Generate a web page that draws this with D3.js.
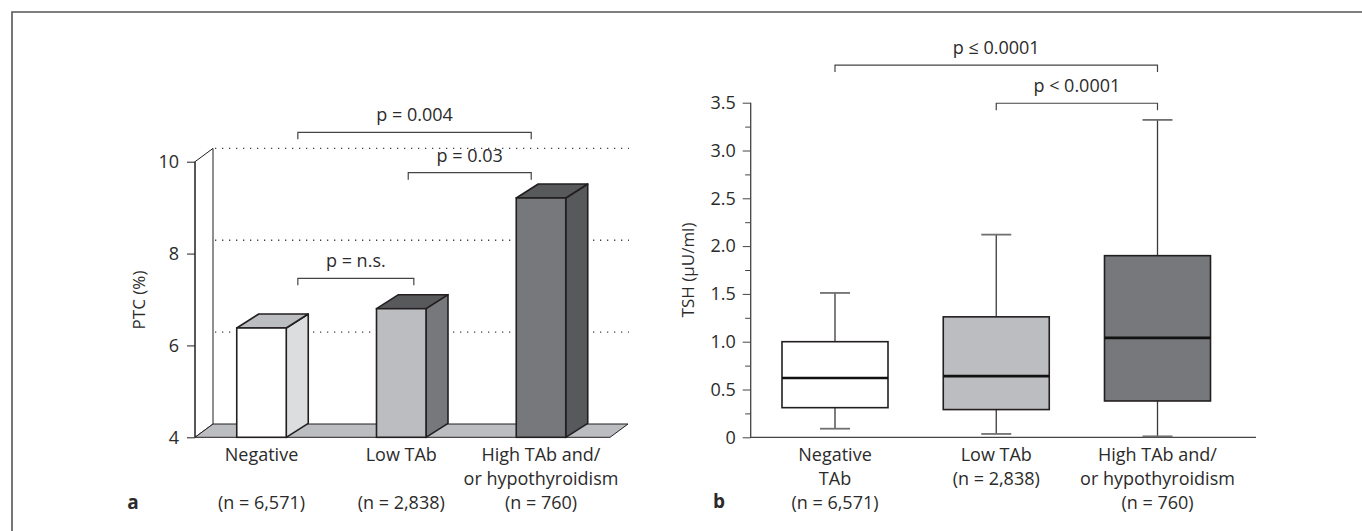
<!DOCTYPE html>
<html>
<head>
<meta charset="utf-8">
<script src="https://cdn.jsdelivr.net/npm/d3@7"></script>
<style>
  body { margin: 0; background: #fff; }
  text { font-family: "Open Sans", sans-serif; fill: #2b2b2b; }
</style>
</head>
<body>
<div id="chart"></div>
<script>
// ---- data ----
const groupLinesA = [["Negative"], ["Low TAb"], ["High TAb and/", "or hypothyroidism"]];
const groupLinesB = [["Negative", "TAb", "(n = 6,571)"], ["Low TAb", "(n = 2,838)"], ["High TAb and/", "or hypothyroidism", "(n = 760)"]];
const countsA = ["(n = 6,571)", "(n = 2,838)", "(n = 760)"];

const ptcValues = [6.38, 6.80, 9.21];
const ptcTicks = [4, 6, 8, 10];
const ptcGrid = [6, 8, 10];

const tshLow = [0.09, 0.035, 0.01];
const tshQ1 = [0.31, 0.29, 0.38];
const tshMedian = [0.62, 0.64, 1.04];
const tshQ3 = [1.00, 1.26, 1.90];
const tshHigh = [1.51, 2.12, 3.32];
const tshTicks = [0, 0.5, 1, 1.5, 2, 2.5, 3, 3.5];
const tshTickLabels = ["0", "0.5", "1.0", "1.5", "2.0", "2.5", "3.0", "3.5"];
const tshMinor = [0.25, 0.75, 1.25, 1.75, 2.25, 2.75, 3.25];

// brackets: from/to in category units, level in axis units
const bracketsA = [
  {from: 0.26, to: 1.93, level: 10.64, label: "p = 0.004"},
  {from: 1.05, to: 1.93, level: 9.76, label: "p = 0.03"},
  {from: 0.26, to: 1.09, level: 7.46, label: "p = n.s."}
];
const bracketsB = [
  {from: 0, to: 2, level: 3.894, label: "p \u2264 0.0001"},
  {from: 1, to: 2, level: 3.494, label: "p < 0.0001"}
];

// ---- styles ----
const ink = "#231f20";
const fs = "18px";
const frontFill = ["#ffffff", "#bcbdc0", "#77787b"];
const sideFill = ["#dcddde", "#77787b", "#58595b"];
const topFill = ["#bcbdc0", "#58595b", "#58595b"];
const boxFill = ["#ffffff", "#bcbdc0", "#77787b"];

const W = 1362, H = 531;
const svg = d3.select("#chart").append("svg")
    .attr("width", W)
    .attr("height", H);

// frame (top and left only)
svg.append("path")
    .attr("d", `M12,${H} V12 H${W}`)
    .attr("fill", "none")
    .attr("stroke", "#555")
    .attr("stroke-width", 1.6);

// ================= panel a =================
const yA = d3.scaleLinear().domain([4, 10]).range([437.3, 161.7]);
const xA = d3.scalePoint().domain(d3.range(3)).range([261.5, 541]);
const posA = d3.scaleLinear().domain([0, 1]).range([261.5, 401.25]);
const axisX = 195, floorRight = 610;
const wdx = 18, wdy = 13.3;   // wall depth
const bdx = 22, bdy = 14;     // bar depth
const barW = 49.5;

const ga = svg.append("g");

// back wall
ga.append("path")
    .attr("d", `M${axisX},${yA(10)} L${axisX + wdx},${yA(10) - wdy} L${axisX + wdx},${yA(4) - wdy} L${axisX},${yA(4)} Z`)
    .attr("fill", "#fff")
    .attr("stroke", ink)
    .attr("stroke-width", 1);

// floor
ga.append("path")
    .attr("d", `M${axisX},${yA(4)} L${axisX + wdx},${yA(4) - wdy} L${floorRight + wdx},${yA(4) - wdy} L${floorRight},${yA(4)} Z`)
    .attr("fill", "#bcbdc0")
    .attr("stroke", ink)
    .attr("stroke-width", 1);

// dotted grid on the back plane
ga.selectAll("line.grid")
    .data(ptcGrid)
    .join("line")
    .attr("class", "grid")
    .attr("x1", axisX + wdx + 2)
    .attr("x2", floorRight + wdx + 1)
    .attr("y1", d => yA(d) - wdy)
    .attr("y2", d => yA(d) - wdy)
    .attr("stroke", "#444")
    .attr("stroke-width", 1.3)
    .attr("stroke-dasharray", "1.3,5.7");

// y axis
const axA = ga.append("g")
    .attr("transform", `translate(${axisX},0)`)
    .call(d3.axisLeft(yA).tickValues(ptcTicks).tickFormat(d3.format("d")).tickSize(8).tickPadding(8));
axA.select(".domain").remove();
axA.selectAll(".tick line").attr("stroke", ink);
axA.selectAll(".tick text")
    .style("font-family", "'Open Sans', sans-serif")
    .style("font-size", fs)
    .attr("fill", "#2b2b2b");

// bars
const bars = ga.selectAll("g.bar")
    .data(ptcValues)
    .join("g")
    .attr("class", "bar");

bars.append("path") // side
    .attr("d", (d, i) => {
      const x1 = xA(i) + barW / 2;
      return `M${x1},${yA(d)} L${x1 + bdx},${yA(d) - bdy} L${x1 + bdx},${yA(4) - bdy} L${x1},${yA(4)} Z`;
    })
    .attr("fill", (d, i) => sideFill[i])
    .attr("stroke", ink)
    .attr("stroke-width", 1.6)
    .attr("stroke-linejoin", "round");

bars.append("path") // top
    .attr("d", (d, i) => {
      const x0 = xA(i) - barW / 2, x1 = xA(i) + barW / 2;
      return `M${x0},${yA(d)} L${x0 + bdx},${yA(d) - bdy} L${x1 + bdx},${yA(d) - bdy} L${x1},${yA(d)} Z`;
    })
    .attr("fill", (d, i) => topFill[i])
    .attr("stroke", ink)
    .attr("stroke-width", 1.6)
    .attr("stroke-linejoin", "round");

bars.append("rect") // front
    .attr("x", (d, i) => xA(i) - barW / 2)
    .attr("y", d => yA(d))
    .attr("width", barW)
    .attr("height", d => yA(4) - yA(d))
    .attr("fill", (d, i) => frontFill[i])
    .attr("stroke", ink)
    .attr("stroke-width", 1.6);

// front axis edge over everything
ga.append("line")
    .attr("x1", axisX).attr("x2", axisX)
    .attr("y1", yA(10)).attr("y2", yA(4))
    .attr("stroke", ink);

// brackets
function drawBrackets(g, list, xf, yf) {
  const b = g.selectAll("g.bracket")
      .data(list)
      .join("g")
      .attr("class", "bracket");
  b.append("path")
      .attr("d", d => `M${xf(d.from)},${yf(d.level) + 7} V${yf(d.level)} H${xf(d.to)} V${yf(d.level) + 7}`)
      .attr("fill", "none")
      .attr("stroke", "#444")
      .attr("stroke-width", 1.2);
  b.append("text")
      .attr("x", d => (xf(d.from) + xf(d.to)) / 2)
      .attr("y", d => yf(d.level) - 11)
      .attr("text-anchor", "middle")
      .style("font-size", fs)
      .text(d => d.label);
}
drawBrackets(ga, bracketsA, posA, yA);

// y label a
ga.append("text")
    .attr("transform", `translate(145,300) rotate(-90)`)
    .attr("text-anchor", "middle")
    .style("font-size", "17px")
    .text("PTC (%)");

// category labels a
groupLinesA.forEach((lines, i) => {
  ga.append("text")
      .attr("text-anchor", "middle")
      .style("font-size", fs)
      .selectAll("tspan")
      .data(lines)
      .join("tspan")
      .attr("x", xA(i))
      .attr("y", (d, j) => 461 + j * 24)
      .text(d => d);
});
ga.selectAll("text.count")
    .data(countsA)
    .join("text")
    .attr("class", "count")
    .attr("x", (d, i) => xA(i))
    .attr("y", 509)
    .attr("text-anchor", "middle")
    .style("font-size", fs)
    .text(d => d);
ga.append("text")
    .attr("x", 133).attr("y", 509)
    .attr("text-anchor", "middle")
    .style("font-size", "19px")
    .style("font-weight", "bold")
    .text("a");

// ================= panel b =================
const yB = d3.scaleLinear().domain([0, 3.5]).range([437.3, 102.7]);
const xB = d3.scalePoint().domain(d3.range(3)).range([835, 1157.5]);
const axisXB = 750.7, axisEndB = 1256;
const boxW = 106, capW = 30;

const gb = svg.append("g");

// minor ticks
const axMinor = gb.append("g")
    .attr("transform", `translate(${axisXB},0)`)
    .call(d3.axisLeft(yB).tickValues(tshMinor).tickSize(5.5).tickFormat(""));
axMinor.select(".domain").remove();
axMinor.selectAll(".tick line").attr("stroke", "#444");

// major ticks
const axB = gb.append("g")
    .attr("transform", `translate(${axisXB},0)`)
    .call(d3.axisLeft(yB).tickValues(tshTicks).tickSize(8).tickPadding(7)
      .tickFormat((d, i) => tshTickLabels[i]));
axB.select(".domain").remove();
axB.selectAll(".tick line").attr("stroke", "#444");
axB.selectAll(".tick text")
    .style("font-family", "'Open Sans', sans-serif")
    .style("font-size", fs)
    .attr("fill", "#2b2b2b");

// axis lines
gb.append("path")
    .attr("d", `M${axisXB},${yB(3.5)} V${yB(0)} H${axisEndB}`)
    .attr("fill", "none")
    .attr("stroke", "#444")
    .attr("stroke-width", 1.3);

// whiskers
const boxes = gb.selectAll("g.box")
    .data(tshMedian)
    .join("g")
    .attr("class", "box");

boxes.append("line")
    .attr("x1", (d, i) => xB(i)).attr("x2", (d, i) => xB(i))
    .attr("y1", (d, i) => yB(tshHigh[i]))
    .attr("y2", (d, i) => yB(tshLow[i]))
    .attr("stroke", "#3a3a3a")
    .attr("stroke-width", 1.3);

boxes.selectAll("line.cap")
    .data((d, i) => [tshLow[i], tshHigh[i]].map(v => ({v, i})))
    .join("line")
    .attr("class", "cap")
    .attr("x1", d => xB(d.i) - capW / 2)
    .attr("x2", d => xB(d.i) + capW / 2)
    .attr("y1", d => yB(d.v))
    .attr("y2", d => yB(d.v))
    .attr("stroke", "#707070")
    .attr("stroke-width", 1.8);

boxes.append("rect")
    .attr("x", (d, i) => xB(i) - boxW / 2)
    .attr("y", (d, i) => yB(tshQ3[i]))
    .attr("width", boxW)
    .attr("height", (d, i) => yB(tshQ1[i]) - yB(tshQ3[i]))
    .attr("fill", (d, i) => boxFill[i])
    .attr("stroke", ink)
    .attr("stroke-width", 1.6);

boxes.append("line")
    .attr("x1", (d, i) => xB(i) - boxW / 2)
    .attr("x2", (d, i) => xB(i) + boxW / 2)
    .attr("y1", d => yB(d))
    .attr("y2", d => yB(d))
    .attr("stroke", "#111")
    .attr("stroke-width", 2.6);

drawBrackets(gb, bracketsB, xB, yB);

gb.append("text")
    .attr("transform", `translate(694,270) rotate(-90)`)
    .attr("text-anchor", "middle")
    .style("font-size", "17px")
    .text("TSH (\u00b5U/ml)");

groupLinesB.forEach((lines, i) => {
  gb.append("text")
      .attr("text-anchor", "middle")
      .style("font-size", fs)
      .selectAll("tspan")
      .data(lines)
      .join("tspan")
      .attr("x", xB(i))
      .attr("y", (d, j) => 461 + j * 24)
      .text(d => d);
});
gb.append("text")
    .attr("x", 719).attr("y", 508)
    .attr("text-anchor", "middle")
    .style("font-size", "19px")
    .style("font-weight", "bold")
    .text("b");
</script>
</body>
</html>
